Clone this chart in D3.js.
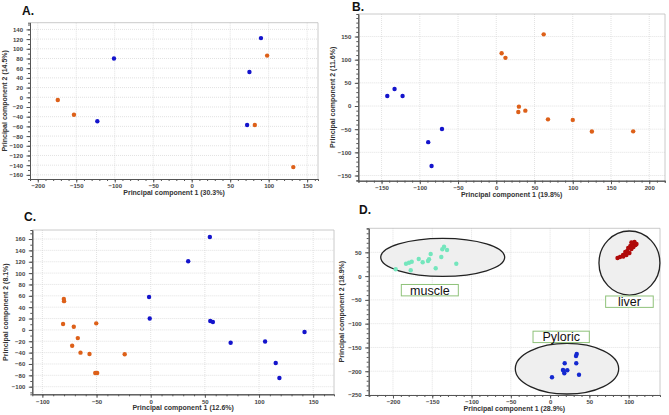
<!DOCTYPE html>
<html>
<head>
<meta charset="utf-8">
<script src="https://cdn.jsdelivr.net/npm/d3@7"></script>
<style>
  body { margin: 0; background: #fff; }
  .tick text { font-family: 'Liberation Sans', Arial, sans-serif; font-weight: bold; font-size: 6px; fill: #444; }
  .axis path, .axis line { stroke: #555; }
  .plabel { font-family: 'Liberation Sans', Arial, sans-serif; font-weight: bold; font-size: 12px; fill: #111; }
  .grp { font-family: 'Liberation Sans', Arial, sans-serif; font-size: 12.5px; fill: #111; }
</style>
</head>
<body>
<script>
// panel A
const aBlue = [[90, 122], [-101, 80], [75, 52], [-122.6, -49.5], [72, -57]]
const aOrange = [[98, 86], [-174, -5.5], [-153, -36], [82, -57], [132, -144]]
const aXTicks = [-200, -150, -100, -50, 0, 50, 100, 150]
const aYTicks = [-160, -140, -120, -100, -80, -60, -40, -20, 0, 20, 40, 60, 80, 100, 120, 140]

// panel B
const bBlue = [[-142.5, 21.6], [-133, 36.7], [-122.5, 21.6], [-71, -49.6], [-89, -78], [-84.6, -129.5]]
const bOrange = [[62, 154.7], [7, 114], [12, 104], [29.6, -1.4], [28.8, -13], [38, -10],
  [67.6, -28.8], [100, -30], [125, -55], [179, -54.7]]
const bXTicks = [-150, -100, -50, 0, 50, 100, 150, 200]
const bYTicks = [-150, -100, -50, 0, 50, 100, 150]

// panel C
const cBlue = [[54.6, 163.7], [34.6, 120.9], [-1.5, 58], [-0.9, 20], [55, 15.6], [57.4, 13.8],
  [73.8, -22.6], [105.6, -20.3], [142, -3.8], [115.4, -58.3], [118.8, -84.8]]
const cOrange = [[-80.2, 54.3], [-80, 50.6], [-80.9, 10.3], [-71, 5.6], [-50.3, 11.5], [-67.3, -14.4],
  [-72.5, -27.8], [-64.8, -40.1], [-56.5, -42.5], [-24, -43], [-51.2, -76], [-49.4, -76]]
const cXTicks = [-100, -50, 0, 50, 100, 150]
const cYTicks = [-100, -80, -60, -40, -20, 0, 20, 40, 60, 80, 100, 120, 140, 160]

// panel D
const dMuscle = [[-196.5, 14.3], [-183.4, 26.1], [-179.6, 28.2], [-176.1, 30.3], [-177.4, 12.2],
  [-167.2, 35.9], [-162.2, 29], [-155.4, 31.7], [-154.1, 35.3], [-152, 46.5], [-145.6, 16.4],
  [-138.5, 40.2], [-137.2, 56.3], [-135, 61.8], [-131.2, 54.9], [-119.4, 26.1]]
const dLiver = [[85.8, 38], [89, 40], [92.8, 44.4], [95.7, 50.7], [98.2, 52.8], [99.4, 59.1],
  [102.1, 63.3], [104.8, 67.5], [107.4, 68.5], [108.7, 65.4], [106.1, 61.2], [103.5, 57],
  [101, 48.6], [97.2, 44.4], [93.2, 41.2], [107.4, 71.7], [110, 67.5], [103.5, 70.6]]
const dPyloric = [[33.9, -163.8], [33, -168], [33.3, -183.3], [18.6, -183.3], [16.4, -197.4],
  [18.1, -204.3], [21.9, -198], [36.8, -207.3], [2.4, -212.7], [17.3, -198.9]]
const dXTicks = [-200, -150, -100, -50, 0, 50, 100]
const dYTicks = [-250, -200, -150, -100, -50, 0, 50]
// groups: name, center x, center y, radius x, radius y, label x, label y
const dGroups = [
  ['muscle', -136.7, 39.5, 78.9, 40, -153.1, -29.6],
  ['liver', 101, 27.5, 38.8, 67.3, 101, -53.8],
  ['Pyloric', 21.5, -194.7, 65.8, 53.2, 14.1, -127.8]
]

const blue = '#1414cc'
const orange = '#dd6019'

const svg = d3.select('body').append('svg')
  .attr('width', 669)
  .attr('height', 415)

svg.append('rect').attr('width', 669).attr('height', 415).attr('fill', '#fff')

const drawPanel = (p) => {
  const x = d3.scaleLinear().domain(p.xd).range([p.l, p.r])
  const y = d3.scaleLinear().domain(p.yd).range([p.b, p.t])
  const g = svg.append('g')

  // grid
  g.selectAll('.gx').data(p.xt).enter().append('line')
    .attr('x1', d => x(d)).attr('x2', d => x(d))
    .attr('y1', p.t).attr('y2', p.b)
    .attr('stroke', '#cfcfcf').attr('stroke-width', 0.6).attr('stroke-dasharray', '1,1')
  g.selectAll('.gy').data(p.yt).enter().append('line')
    .attr('y1', d => y(d)).attr('y2', d => y(d))
    .attr('x1', p.l).attr('x2', p.r)
    .attr('stroke', '#cfcfcf').attr('stroke-width', 0.6).attr('stroke-dasharray', '1,1')

  // top / right frame
  g.append('path')
    .attr('d', `M${p.l},${p.t}H${p.r}V${p.b}`)
    .attr('fill', 'none').attr('stroke', '#bdbdbd').attr('stroke-width', 0.8)

  // minor ticks
  const xMin = d3.range(Math.ceil(p.xd[0] / p.xm) * p.xm, p.xd[1], p.xm)
  const yMin = d3.range(Math.ceil(p.yd[0] / p.ym) * p.ym, p.yd[1], p.ym)
  g.append('g').attr('class', 'axis')
    .attr('transform', `translate(0,${p.b})`)
    .call(d3.axisBottom(x).tickValues(xMin).tickSize(2).tickFormat(''))
  g.append('g').attr('class', 'axis')
    .attr('transform', `translate(${p.l},0)`)
    .call(d3.axisLeft(y).tickValues(yMin).tickSize(2).tickFormat(''))

  // major ticks
  g.append('g').attr('class', 'axis')
    .attr('transform', `translate(0,${p.b})`)
    .call(d3.axisBottom(x).tickValues(p.xt).tickSize(3.5).tickPadding(1.5).tickSizeOuter(0))
  g.append('g').attr('class', 'axis')
    .attr('transform', `translate(${p.l},0)`)
    .call(d3.axisLeft(y).tickValues(p.yt).tickSize(3.5).tickPadding(3.5).tickSizeOuter(0))

  g.selectAll('.axis path').attr('stroke-width', 1)

  // titles
  g.append('text')
    .attr('x', (p.l + p.r) / 2).attr('y', p.b + 16)
    .attr('text-anchor', 'middle')
    .style('font-family', "'Liberation Sans', Arial, sans-serif")
    .style('font-weight', 'bold').style('font-size', '7px').style('fill', '#333')
    .text(p.xTitle)
  g.append('text')
    .attr('transform', `translate(${p.yx},${(p.t + p.b) / 2}) rotate(-90)`)
    .attr('text-anchor', 'middle')
    .style('font-family', "'Liberation Sans', Arial, sans-serif")
    .style('font-weight', 'bold').style('font-size', '7px').style('fill', '#333')
    .text(p.yTitle)

  g.append('text').attr('class', 'plabel')
    .attr('x', p.lx).attr('y', p.ly).text(p.label)

  return { g, x, y }
}

const dots = (g, x, y, data, color) => {
  g.selectAll(null).data(data).enter().append('circle')
    .attr('cx', d => x(d[0]))
    .attr('cy', d => y(d[1]))
    .attr('r', 2.2)
    .attr('fill', color)
}

const A = drawPanel({ l: 30, r: 318, t: 22.7, b: 179, xd: [-210.1, 164.1], yd: [-168.5, 153.8],
  xt: aXTicks, yt: aYTicks, xm: 10, ym: 10, xTitle: 'Principal component 1 (30.3%)',
  yTitle: 'Principal component 2 (14.5%)', yx: 6.5, label: 'A.', lx: 22, ly: 14.5 })
dots(A.g, A.x, A.y, aBlue, blue)
dots(A.g, A.x, A.y, aOrange, orange)

const B = drawPanel({ l: 358.3, r: 665, t: 14, b: 180.7, xd: [-180.4, 220.6], yd: [-161.2, 198.6],
  xt: bXTicks, yt: bYTicks, xm: 10, ym: 10, xTitle: 'Principal component 1 (19.8%)',
  yTitle: 'Principal component 2 (11.6%)', yx: 334.5, label: 'B.', lx: 352, ly: 11 })
dots(B.g, B.x, B.y, bBlue, blue)
dots(B.g, B.x, B.y, bOrange, orange)

const C = drawPanel({ l: 32.3, r: 334, t: 230, b: 394.3, xd: [-109.3, 169.2], yd: [-113.4, 175.9],
  xt: cXTicks, yt: cYTicks, xm: 10, ym: 10, xTitle: 'Principal component 1 (12.6%)',
  yTitle: 'Principal component 2 (8.1%)', yx: 7.5, label: 'C.', lx: 24, ly: 221 })
dots(C.g, C.x, C.y, cBlue, blue)
dots(C.g, C.x, C.y, cOrange, orange)

const D = drawPanel({ l: 368.7, r: 660, t: 228.3, b: 395, xd: [-230.9, 139.9], yd: [-250, 100.5],
  xt: dXTicks, yt: dYTicks, xm: 10, ym: 10, xTitle: 'Principal component 1 (28.9%)',
  yTitle: 'Principal component 2 (18.9%)', yx: 343.5, label: 'D.', lx: 359, ly: 213.5 })

D.g.selectAll(null).data(dGroups).enter().append('ellipse')
  .attr('cx', d => D.x(d[1]))
  .attr('cy', d => D.y(d[2]))
  .attr('rx', d => D.x(d[1] + d[3]) - D.x(d[1]))
  .attr('ry', d => D.y(d[2] - d[4]) - D.y(d[2]))
  .attr('fill', '#efefef')
  .attr('stroke', '#222')
  .attr('stroke-width', 1.3)

dots(D.g, D.x, D.y, dMuscle, '#74e6bd')
dots(D.g, D.x, D.y, dLiver, '#b00a0a')
dots(D.g, D.x, D.y, dPyloric, '#1428d0')

const boxW = { muscle: 57, liver: 47.6, Pyloric: 56.3 }
const lab = D.g.selectAll(null).data(dGroups).enter().append('g')
  .attr('transform', d => `translate(${D.x(d[5])},${D.y(d[6])})`)
lab.append('rect')
  .attr('x', d => -boxW[d[0]] / 2).attr('y', -5.7)
  .attr('width', d => boxW[d[0]]).attr('height', 11.4)
  .attr('fill', '#fff').attr('stroke', '#8fc27a').attr('stroke-width', 1)
lab.append('text').attr('class', 'grp')
  .attr('text-anchor', 'middle').attr('y', 4.6)
  .text(d => d[0])
</script>
</body>
</html>
